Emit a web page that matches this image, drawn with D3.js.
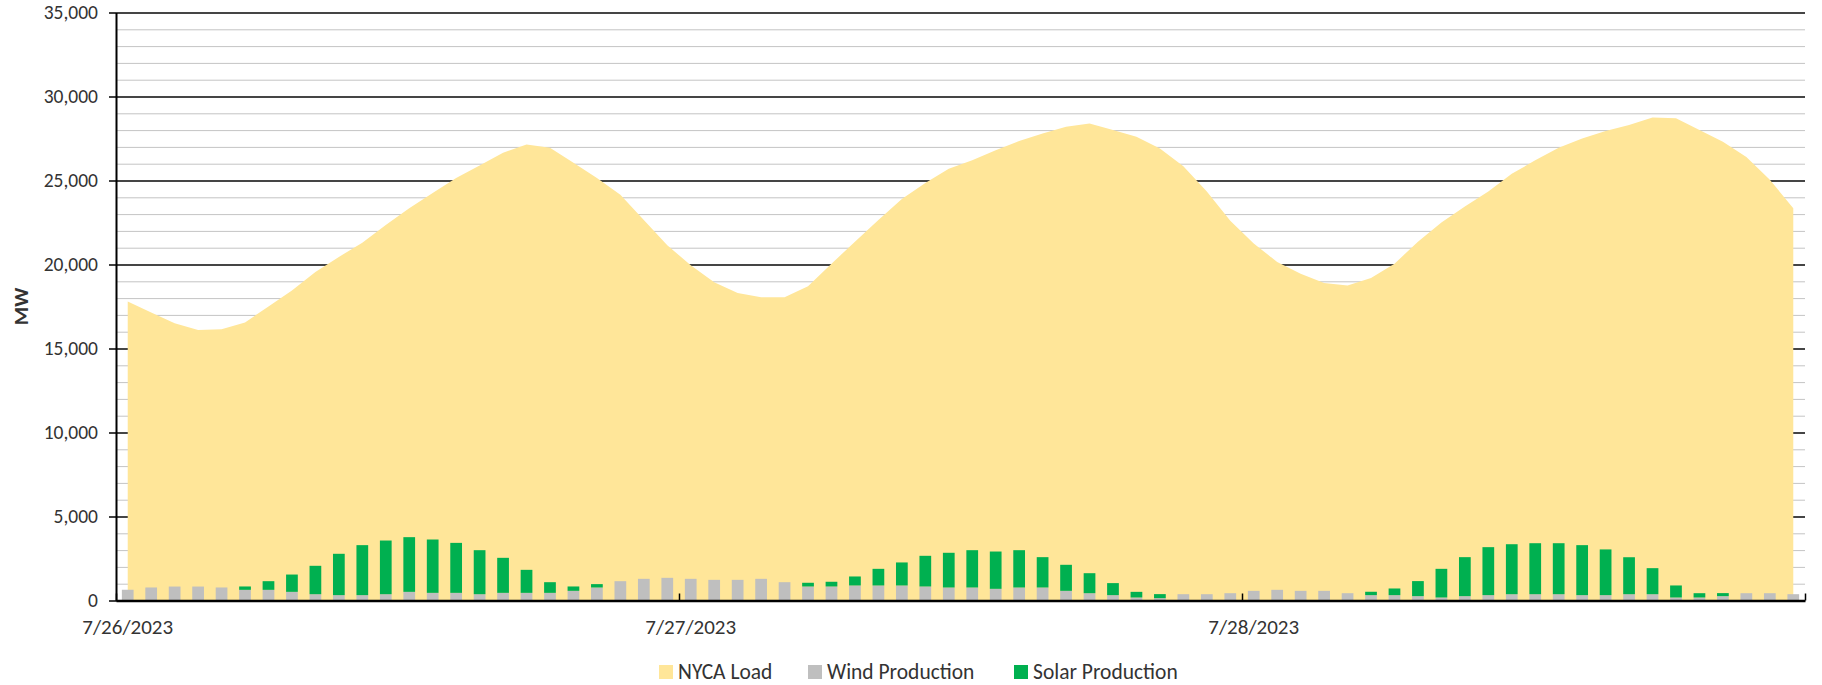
<!DOCTYPE html>
<html>
<head>
<meta charset="utf-8">
<script src="https://cdn.jsdelivr.net/npm/d3@7"></script>
<style>
  body { margin: 0; background: #fff; }
  text { font-family: Carlito, Calibri, Lato, sans-serif; fill: #333; }
</style>
</head>
<body>
<div id="chart"></div>
<script>
// Day labels (x axis) and hourly categories
var days = ["7/26/2023", "7/27/2023", "7/28/2023"];
var hours = [];
days.forEach(function(d) {
  for (var h = 0; h < 24; h++) hours.push(d + " " + h + ":00");
});

// NYCA load, MW (hourly)
var load = [
  17800, 17150, 16500, 16100, 16150, 16550, 17500, 18450, 19550, 20450, 21300, 22350,
  23350, 24250, 25150, 25900, 26650, 27150, 26950, 26050, 25150, 24150, 22650, 21150,
  19950, 18950, 18300, 18050, 18050, 18700, 20050, 21350, 22650, 23900, 24850, 25700,
  26200, 26800, 27350, 27800, 28200, 28400, 28000, 27600, 26900, 25850, 24350, 22600,
  21250, 20150, 19450, 18900, 18750, 19200, 20050, 21350, 22500, 23450, 24350, 25400,
  26200, 26950, 27500, 27950, 28300, 28750, 28700, 28000, 27300, 26400, 25050, 23350
];

// Wind production, MW
var wind = [
  640, 775, 830, 830, 775, 635, 635, 515, 375, 320, 320, 375,
  515, 455, 455, 375, 455, 455, 455, 575, 775, 1150, 1290, 1350,
  1290, 1230, 1230, 1290, 1090, 835, 835, 895, 895, 895, 835, 775,
  775, 695, 775, 775, 575, 435, 320, 180, 140, 375, 375, 435,
  575, 635, 575, 575, 435, 320, 320, 260, 180, 260, 320, 375,
  375, 375, 320, 320, 375, 375, 180, 180, 260, 435, 435, 375
];

// Solar production, MW
var solar = [
  0, 0, 0, 0, 0, 200, 515, 1030, 1690, 2460, 2975, 3195,
  3255, 3175, 2975, 2620, 2085, 1370, 635, 260, 200, 0, 0, 0,
  0, 0, 0, 0, 0, 220, 280, 535, 990, 1370, 1825, 2065,
  2220, 2220, 2220, 1805, 1550, 1190, 715, 335, 240, 0, 0, 0,
  0, 0, 0, 0, 0, 200, 395, 895, 1705, 2320, 2855, 2975,
  3035, 3035, 2975, 2720, 2200, 1550, 715, 255, 180, 0, 0, 0
];

var yMajor = [0, 5000, 10000, 15000, 20000, 25000, 30000, 35000];
var seriesNames = ["NYCA Load", "Wind Production", "Solar Production"];
var colors = {"NYCA Load": "#ffe699", "Wind Production": "#bfbfbf", "Solar Production": "#00b050"};

// Chart dimensions
var width = 1822, height = 685;
var plot = {left: 116, right: 1805, top: 12.5, bottom: 600.5};

var svg = d3.select("#chart").append("svg")
  .attr("width", width)
  .attr("height", height);

var x = d3.scaleBand().domain(hours)
  .range([plot.left, plot.right])
  .paddingInner(0.5).paddingOuter(0.25);
var xTicks = d3.scaleLinear().domain([0, hours.length]).range([plot.left, plot.right]);
var y = d3.scaleLinear().domain([0, 35000]).range([plot.bottom, plot.top]);

var rows = hours.map(function(h, i) {
  return {hour: h, load: load[i], wind: wind[i], solar: solar[i]};
});

// Minor gridlines every 1,000
svg.append("g")
  .attr("transform", "translate(" + plot.left + ",0)")
  .call(d3.axisLeft(y).ticks(35).tickSize(-(plot.right - plot.left)).tickFormat(""))
  .call(function(g) { g.select(".domain").remove(); })
  .selectAll("line").attr("stroke", "#c4c4c4").attr("stroke-width", 1);

// Major gridlines every 5,000
svg.append("g")
  .attr("transform", "translate(" + plot.left + ",0)")
  .call(d3.axisLeft(y).tickValues(yMajor).tickSize(-(plot.right - plot.left)).tickFormat(""))
  .call(function(g) { g.select(".domain").remove(); })
  .selectAll("line").attr("stroke", "#111").attr("stroke-width", 1.5);

// Load area
var area = d3.area()
  .x(function(d) { return x(d.hour) + x.bandwidth() / 2; })
  .y0(y(0))
  .y1(function(d) { return y(d.load); });

svg.append("path")
  .datum(rows)
  .attr("fill", colors["NYCA Load"])
  .attr("d", area);

// Stacked wind + solar bars
var stack = d3.stack().keys(["wind", "solar"]);
var stacked = stack(rows);
var barColors = {wind: colors["Wind Production"], solar: colors["Solar Production"]};

svg.selectAll(".layer")
  .data(stacked)
  .enter().append("g")
  .attr("class", "layer")
  .attr("fill", function(d) { return barColors[d.key]; })
  .selectAll("rect")
  .data(function(d) { return d; })
  .enter().append("rect")
  .attr("x", function(d) { return x(d.data.hour); })
  .attr("width", x.bandwidth())
  .attr("y", function(d) { return y(d[1]); })
  .attr("height", function(d) { return y(d[0]) - y(d[1]); });

// Y axis
var yAxis = svg.append("g")
  .attr("transform", "translate(" + plot.left + ",0)")
  .call(d3.axisLeft(y).tickValues(yMajor).tickSize(7).tickSizeOuter(0).tickPadding(11)
    .tickFormat(d3.format(",")));
yAxis.select(".domain").attr("stroke", "#000").attr("stroke-width", 2);
yAxis.selectAll("line").attr("stroke", "#000").attr("stroke-width", 1.5);
yAxis.selectAll("text").attr("font-size", 19.5).style("font-family", null).attr("fill", "#2b2b2b");

// X axis line and day tick marks
var xAxis = svg.append("g")
  .attr("transform", "translate(0," + plot.bottom + ")")
  .call(d3.axisBottom(xTicks).tickValues([0, 24, 48, 72]).tickSize(-7).tickSizeOuter(0).tickFormat(""));
xAxis.select(".domain").attr("stroke", "#000").attr("stroke-width", 2.5);
xAxis.selectAll("line").attr("stroke", "#000").attr("stroke-width", 1.5);

// X axis day labels
var xLabels = svg.append("g")
  .attr("transform", "translate(0," + plot.bottom + ")")
  .call(d3.axisBottom(x)
    .tickValues(hours.filter(function(h, i) { return i % 24 === 0; }))
    .tickSize(0).tickPadding(19)
    .tickFormat(function(h) { return h.split(" ")[0]; }));
xLabels.select(".domain").remove();
xLabels.selectAll("text").attr("font-size", 21).style("font-family", null).attr("fill", "#2b2b2b");

// Y axis title
svg.append("text")
  .attr("transform", "translate(28," + ((plot.top + plot.bottom) / 2) + ") rotate(-90)")
  .attr("text-anchor", "middle")
  .attr("font-size", 21)
  .attr("font-weight", "bold")
  .attr("fill", "#1a1a1a")
  .text("MW");

// Legend
var legendX = [659, 808, 1014];
var legend = svg.append("g").selectAll("g")
  .data(seriesNames)
  .enter().append("g")
  .attr("transform", function(d, i) { return "translate(" + legendX[i] + ",665)"; });

legend.append("rect")
  .attr("width", 14).attr("height", 14)
  .attr("fill", function(d) { return colors[d]; });

legend.append("text")
  .attr("x", 19).attr("y", 14)
  .attr("font-size", 21.5)
  .attr("fill", "#2b2b2b")
  .text(function(d) { return d; });
</script>
</body>
</html>
